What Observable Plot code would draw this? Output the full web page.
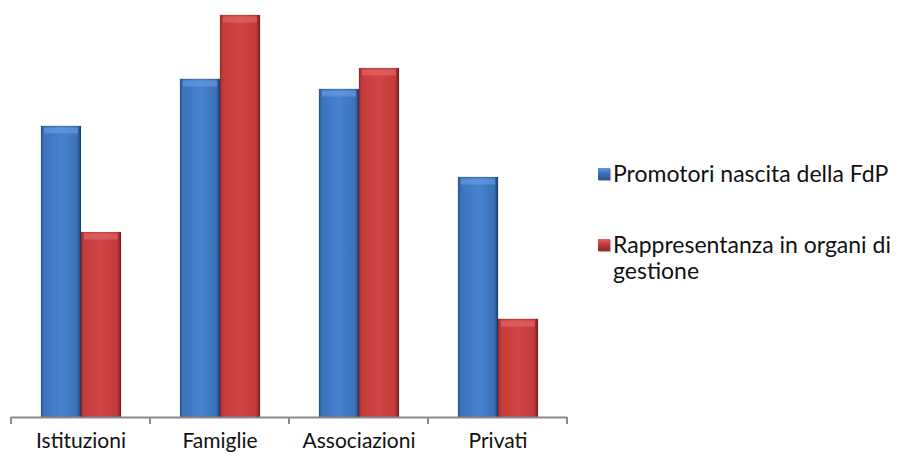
<!DOCTYPE html>
<html>
<head>
<meta charset="utf-8">
<script src="https://cdn.jsdelivr.net/npm/d3@7"></script>
<script src="https://cdn.jsdelivr.net/npm/@observablehq/plot@0.6"></script>
<style>
  html, body { margin: 0; padding: 0; background: #fff; }
  #wrap { position: relative; width: 902px; height: 458px; font-family: Lato, "Open Sans", sans-serif; overflow: hidden; }
  #chart { position: absolute; left: 0; top: 0; }
  .leg { position: absolute; left: 598px; font-size: 23px; line-height: 26px; color: #111; }
  .leg .sw { position: absolute; left: 0; top: 8px; width: 12px; height: 12px; }
  .leg .tx { position: absolute; left: 15px; top: 0; width: 300px; }
</style>
</head>
<body>
<div id="wrap">
  <div id="chart"></div>
  <div class="leg" style="top:160px"><div class="sw" id="sw0"></div><div class="tx" id="lg0"></div></div>
  <div class="leg" style="top:231px"><div class="sw" id="sw1"></div><div class="tx" id="lg1"></div></div>
</div>
<script>
const categories = ["Istituzioni", "Famiglie", "Associazioni", "Privati"];
const seriesNames = ["Promotori nascita della FdP", "Rappresentanza in organi di gestione"];
const promotori = [72.4, 84.1, 81.6, 59.7];
const rappresentanza = [46.0, 100, 86.8, 24.4];

const data = categories.flatMap((c, i) => [
  {cat: c, serie: seriesNames[0], value: promotori[i]},
  {cat: c, serie: seriesNames[1], value: rappresentanza[i]}
]);

const chart = Plot.plot({
  width: 590,
  height: 458,
  marginLeft: 10,
  marginRight: 23,
  marginTop: 15,
  marginBottom: 41,
  style: {fontFamily: "Lato, 'Open Sans', sans-serif", fontSize: "21px", color: "#111", background: "transparent", overflow: "visible"},
  fx: {domain: categories, padding: 0, label: null, axis: "bottom", tickSize: 0, tickPadding: 16},
  x: {domain: seriesNames, axis: null, paddingInner: 0, paddingOuter: 0.72},
  y: {domain: [0, 100], axis: null},
  color: {domain: seriesNames, range: ["url(#gBlue)", "url(#gRed)"]},
  marks: [
    Plot.barY(data, {fx: "cat", x: "serie", y: "value", fill: "serie",
      stroke: "rgba(0,0,0,0.22)", strokeWidth: 0.6,
      style: "filter: drop-shadow(2px 1px 2px rgba(0,0,0,0.35))"}),
    Plot.tickY(data, {fx: "cat", x: "serie", y: "value",
      stroke: d => d.serie === seriesNames[0] ? "#6a9fe2" : "#e46a6a",
      strokeWidth: 6, dy: 4, insetLeft: 3, insetRight: 3, strokeOpacity: 0.6}),
    Plot.ruleY([0], {stroke: "#8a8a8a", strokeWidth: 2})
  ]
});

document.getElementById("chart").appendChild(chart);

const svg = d3.select(chart);
const defs = svg.insert("defs", ":first-child");
function grad(id, stops) {
  const g = defs.append("linearGradient").attr("id", id).attr("x1", "0").attr("x2", "1").attr("y1", "0").attr("y2", "0");
  stops.forEach(([o, c]) => g.append("stop").attr("offset", o).attr("stop-color", c));
}
grad("gBlue", [["0", "#2a5690"], ["0.07", "#3b72ba"], ["0.5", "#4782ce"], ["0.9", "#3b72ba"], ["1", "#1d3f6c"]]);
grad("gRed", [["0", "#9c2a2a"], ["0.07", "#c43a3a"], ["0.5", "#d34545"], ["0.9", "#c33939"], ["1", "#7a1d1d"]]);

// category boundary tick marks on the axis
const fx = chart.scale("fx");
const y = chart.scale("y");
const y0 = y.apply(0);
const bounds = categories.map(c => fx.apply(c)).concat([fx.apply(categories[categories.length - 1]) + fx.bandwidth]);
svg.append("g").selectAll("line").data(bounds).join("line")
  .attr("x1", d => d).attr("x2", d => d)
  .attr("y1", y0).attr("y2", y0 + 7)
  .attr("stroke", "#8a8a8a").attr("stroke-width", 2);

// legend
const swatchBg = ["linear-gradient(180deg,#5f97de 0%,#3a70b7 45%,#2a5690 100%)",
                  "linear-gradient(180deg,#e26464 0%,#c33939 45%,#8e2626 100%)"];
seriesNames.forEach((s, i) => {
  document.getElementById("lg" + i).textContent = s;
  const sw = document.getElementById("sw" + i);
  sw.style.background = swatchBg[i];
  sw.style.boxShadow = "1px 1px 1px rgba(0,0,0,0.3)";
});
</script>
</body>
</html>
